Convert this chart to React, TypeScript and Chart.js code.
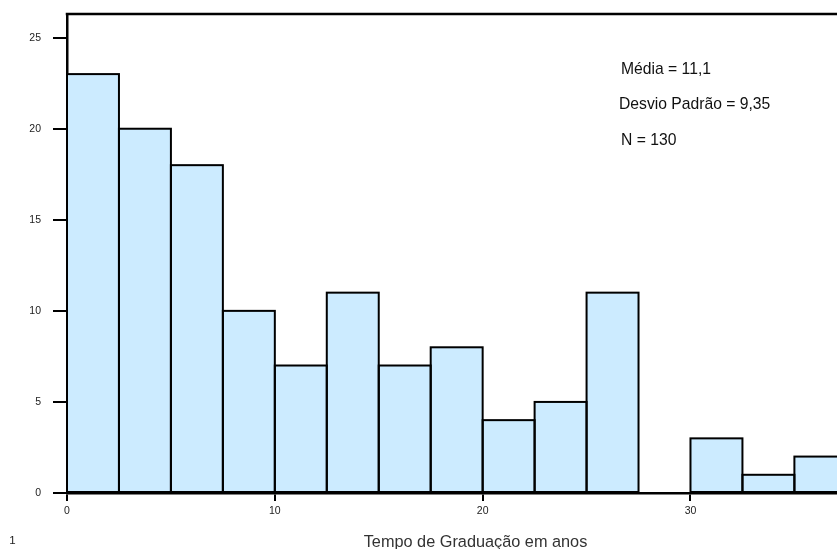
import React, { useEffect, useRef } from "react";
import { Chart, registerables } from "chart.js";
Chart.register(...registerables);

const binWidth = 2.5;
const binStarts = [0, 2.5, 5, 7.5, 10, 12.5, 15, 17.5, 20, 22.5, 25, 27.5, 30, 32.5, 35];
const counts = [23, 20, 18, 10, 7, 11, 7, 8, 4, 5, 11, 0, 3, 1, 2];
const xTickStep = 10;
const yTickStep = 5;
const xMax = 37.05;
const yMax = 26.3;
const statLines = ["Média = 11,1", "Desvio Padrão = 9,35", "N = 130"];
const xTitle = "Tempo de Graduação em anos";
const cornerLabel = "1";

const FONT = "'Liberation Sans', Arial, sans-serif";

const overlay = {
  id: "overlay",
  afterDatasetsDraw(chart: any) {
    const { ctx, chartArea } = chart;
    const meta = chart.getDatasetMeta(0);
    ctx.save();
    ctx.strokeStyle = "#000";
    ctx.lineWidth = 2;
    meta.data.forEach((el: any) => {
      const { x, y, base, width } = el.getProps(["x", "y", "base", "width"], true);
      ctx.strokeRect(x - width / 2, y, width, base - y);
    });
    ctx.lineWidth = 2.5;
    ctx.beginPath();
    ctx.moveTo(chartArea.left - 1.25, chartArea.top);
    ctx.lineTo(chart.width, chartArea.top);
    ctx.stroke();

    ctx.fillStyle = "#111";
    ctx.textAlign = "left";
    ctx.textBaseline = "alphabetic";
    ctx.font = `15.7px ${FONT}`;
    ctx.fillText(statLines[0], 621, 73.5);
    ctx.fillText(statLines[1], 619, 108.5);
    ctx.fillText(statLines[2], 621, 144.5);

    ctx.fillStyle = "#333";
    ctx.font = `16.3px ${FONT}`;
    ctx.textAlign = "center";
    ctx.fillText(xTitle, 475.5, 547);

    ctx.fillStyle = "#222";
    ctx.font = `11.5px ${FONT}`;
    ctx.fillText(cornerLabel, 12.5, 543.5);
    ctx.restore();
  },
};

export default function App() {
  const ref = useRef<HTMLCanvasElement>(null);
  useEffect(() => {
    document.body.style.margin = "0";
    const canvas = ref.current!;
    const chart = new Chart(canvas, {
      type: "bar",
      data: {
        datasets: [
          {
            data: binStarts.map((s, i) => ({ x: s + binWidth / 2, y: counts[i] })),
            backgroundColor: "rgb(204,235,255)",
            borderWidth: 0,
            barPercentage: 1,
            categoryPercentage: 1,
          },
        ],
      },
      options: {
        responsive: false,
        animation: false,
        devicePixelRatio: 1,
        layout: { padding: { top: 14, left: 0, right: 0, bottom: 0 } },
        plugins: { legend: { display: false }, tooltip: { enabled: false } },
        scales: {
          x: {
            type: "linear",
            min: 0,
            max: xMax,
            offset: false,
            grid: { offset: false, drawOnChartArea: false, drawTicks: true, tickLength: 8, color: "#000", lineWidth: 2 },
            border: { display: true, color: "#000", width: 2.5 },
            ticks: {
              stepSize: xTickStep,
              includeBounds: false,
              color: "#222",
              font: { family: FONT, size: 10.5 },
              padding: 4,
              maxRotation: 0,
            },
            afterFit(scale: any) {
              scale.height = 56;
              scale.paddingLeft = 0;
              scale.paddingRight = 0;
            },
          },
          y: {
            min: 0,
            max: yMax,
            grid: { drawOnChartArea: false, drawTicks: true, tickLength: 14, color: "#000", lineWidth: 2 },
            border: { display: true, color: "#000", width: 2.5 },
            ticks: {
              stepSize: yTickStep,
              includeBounds: false,
              color: "#222",
              font: { family: FONT, size: 10.5 },
              padding: 12,
            },
            afterFit(scale: any) {
              scale.width = 67;
              scale.paddingTop = 0;
              scale.paddingBottom = 0;
            },
          },
        },
      },
      plugins: [overlay],
    } as any);
    return () => chart.destroy();
  }, []);
  return (
    <canvas
      ref={ref}
      width={837}
      height={549}
      style={{ display: "block", width: 837, height: 549 }}
    />
  );
}
